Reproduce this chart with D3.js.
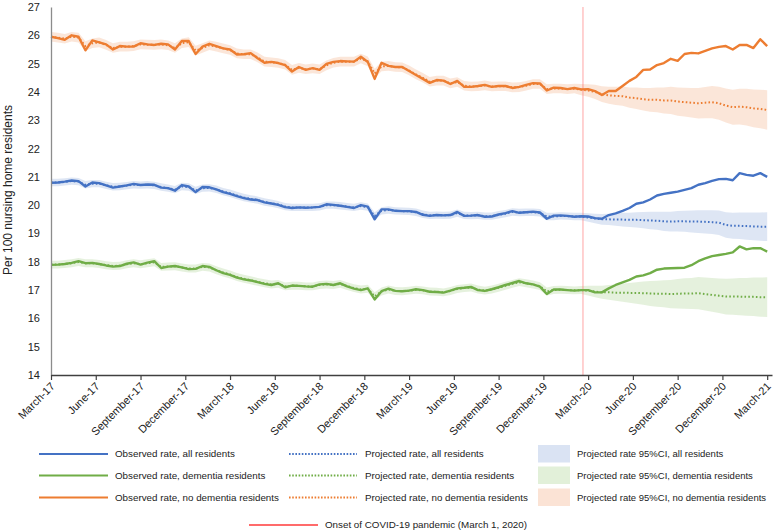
<!DOCTYPE html>
<html><head><meta charset="utf-8">
<script src="https://cdn.jsdelivr.net/npm/d3@7/dist/d3.min.js"></script>
<style>
html,body{margin:0;padding:0;background:#fff;}
svg{display:block;font-family:"Liberation Sans",Arial,sans-serif;}
</style></head>
<body>
<svg id="chart" width="777" height="532"></svg>
<script>
// ---- DATA (biweekly points, week index from March 2017) ----
const tickLabels = ["March-17","June-17","September-17","December-17","March-18","June-18","September-18","December-18","March-19","June-19","September-19","December-19","March-20","June-20","September-20","December-20","March-21"];
const yTicks = [14,15,16,17,18,19,20,21,22,23,24,25,26,27];
const covidWeek = 154.5;

const obsAll = [
20.79,20.80,20.83,20.87,20.85,20.66,20.80,20.78,20.70,20.62,
20.66,20.70,20.75,20.71,20.73,20.72,20.62,20.60,20.51,20.71,
20.66,20.46,20.64,20.63,20.56,20.46,20.40,20.32,20.25,20.20,
20.18,20.10,20.06,20.01,19.93,19.90,19.92,19.91,19.92,19.94,
20.03,20.01,19.98,19.94,19.90,20.00,19.95,19.50,19.85,19.85,
19.80,19.79,19.79,19.76,19.66,19.62,19.65,19.64,19.65,19.76,
19.62,19.63,19.65,19.59,19.60,19.67,19.72,19.79,19.73,19.75,
19.77,19.74,19.52,19.63,19.64,19.62,19.59,19.61,19.60,19.54,
19.52,19.65,19.71,19.80,19.90,20.05,20.10,20.20,20.34,20.40,
20.44,20.48,20.54,20.60,20.72,20.78,20.86,20.92,20.93,20.88,
21.13,21.07,21.04,21.13,21.00];
const projAll = [
20.80,20.80,20.82,20.85,20.83,20.72,20.76,20.76,20.70,20.65,
20.66,20.69,20.72,20.71,20.72,20.70,20.64,20.60,20.55,20.66,
20.64,20.52,20.60,20.61,20.56,20.48,20.42,20.34,20.27,20.22,
20.18,20.11,20.07,20.02,19.95,19.92,19.92,19.92,19.92,19.94,
20.00,20.00,19.98,19.95,19.92,19.97,19.93,19.62,19.80,19.83,
19.80,19.79,19.78,19.75,19.68,19.64,19.65,19.64,19.65,19.72,
19.64,19.63,19.64,19.61,19.61,19.66,19.70,19.76,19.74,19.75,
19.75,19.73,19.60,19.60,19.62,19.61,19.60,19.60,19.56,19.53,
19.50,19.50,19.49,19.49,19.48,19.48,19.47,19.46,19.45,19.43,
19.42,19.43,19.43,19.42,19.42,19.41,19.40,19.38,19.30,19.27,
19.27,19.26,19.25,19.24,19.24];
const ciAll = [
0.13,0.13,0.13,0.13,0.13,0.13,0.13,0.13,0.13,0.13,
0.13,0.13,0.13,0.13,0.13,0.13,0.13,0.13,0.13,0.13,
0.13,0.13,0.13,0.13,0.13,0.13,0.13,0.13,0.13,0.13,
0.13,0.13,0.13,0.13,0.13,0.13,0.13,0.13,0.13,0.13,
0.13,0.13,0.13,0.13,0.13,0.13,0.13,0.13,0.13,0.13,
0.13,0.13,0.13,0.13,0.13,0.13,0.13,0.13,0.13,0.13,
0.13,0.13,0.13,0.13,0.13,0.13,0.13,0.13,0.13,0.13,
0.13,0.13,0.13,0.13,0.13,0.13,0.13,0.13,0.15,0.17,
0.19,0.20,0.22,0.24,0.25,0.27,0.29,0.31,0.32,0.34,
0.35,0.36,0.37,0.39,0.40,0.41,0.42,0.43,0.45,0.46,
0.47,0.48,0.49,0.50,0.51];

const obsDem = [
17.89,17.90,17.92,17.96,18.02,17.95,17.96,17.92,17.87,17.83,
17.85,17.93,17.98,17.90,17.97,18.02,17.78,17.83,17.85,17.80,
17.74,17.75,17.85,17.82,17.70,17.60,17.54,17.44,17.38,17.34,
17.28,17.22,17.18,17.24,17.10,17.16,17.15,17.13,17.12,17.20,
17.22,17.18,17.24,17.13,17.05,17.00,17.06,16.67,16.96,17.05,
16.97,16.96,16.98,17.03,17.00,16.94,16.93,16.91,16.98,17.06,
17.08,17.11,17.00,16.97,17.03,17.10,17.18,17.25,17.32,17.24,
17.20,17.12,16.86,17.02,17.02,17.00,16.98,17.00,17.00,16.92,
16.92,17.06,17.18,17.27,17.36,17.48,17.52,17.60,17.72,17.76,
17.77,17.78,17.79,17.88,18.02,18.12,18.20,18.24,18.28,18.33,
18.54,18.44,18.48,18.48,18.36];
const projDem = [
17.90,17.90,17.92,17.95,17.99,17.95,17.95,17.92,17.88,17.85,
17.86,17.91,17.95,17.91,17.95,17.98,17.82,17.83,17.84,17.80,
17.76,17.76,17.82,17.80,17.70,17.62,17.55,17.46,17.40,17.35,
17.29,17.24,17.20,17.22,17.13,17.15,17.15,17.13,17.13,17.18,
17.20,17.18,17.22,17.14,17.07,17.02,17.05,16.78,16.95,17.02,
16.97,16.96,16.98,17.01,16.99,16.95,16.94,16.92,16.97,17.04,
17.07,17.09,17.02,16.98,17.02,17.08,17.15,17.22,17.28,17.24,
17.20,17.14,16.95,17.00,17.01,17.00,16.99,17.00,16.98,16.95,
16.92,16.92,16.91,16.91,16.90,16.90,16.89,16.88,16.87,16.87,
16.86,16.87,16.88,16.88,16.89,16.86,16.83,16.80,16.77,16.77,
16.77,16.76,16.76,16.75,16.75];
const ciDem = [
0.14,0.14,0.14,0.14,0.14,0.14,0.14,0.14,0.14,0.14,
0.14,0.14,0.14,0.14,0.14,0.14,0.14,0.14,0.14,0.14,
0.14,0.14,0.14,0.14,0.14,0.14,0.14,0.14,0.14,0.14,
0.14,0.14,0.14,0.14,0.14,0.14,0.14,0.14,0.14,0.14,
0.14,0.14,0.14,0.14,0.14,0.14,0.14,0.14,0.14,0.14,
0.14,0.14,0.14,0.14,0.14,0.14,0.14,0.14,0.14,0.14,
0.14,0.14,0.14,0.14,0.14,0.14,0.14,0.14,0.14,0.14,
0.14,0.14,0.14,0.14,0.14,0.14,0.14,0.14,0.17,0.20,
0.23,0.26,0.29,0.32,0.35,0.38,0.41,0.44,0.46,0.48,
0.50,0.52,0.54,0.55,0.57,0.58,0.60,0.61,0.63,0.64,
0.66,0.67,0.68,0.69,0.70];

const obsNoDem = [
25.95,25.90,25.84,26.00,25.95,25.47,25.82,25.75,25.68,25.50,
25.62,25.60,25.60,25.72,25.68,25.66,25.70,25.68,25.50,25.80,
25.80,25.34,25.60,25.70,25.62,25.54,25.50,25.32,25.33,25.37,
25.19,25.03,25.06,25.02,24.95,24.72,24.88,24.78,24.84,24.78,
24.99,25.06,25.09,25.08,25.07,25.24,25.06,24.46,25.03,24.92,
24.88,24.88,24.74,24.60,24.46,24.32,24.42,24.40,24.28,24.39,
24.18,24.18,24.21,24.25,24.18,24.21,24.21,24.14,24.18,24.25,
24.31,24.30,24.05,24.15,24.14,24.10,24.14,24.09,24.10,24.03,
23.89,24.03,24.03,24.21,24.39,24.53,24.78,24.79,24.95,25.02,
25.17,25.10,25.34,25.38,25.36,25.45,25.54,25.59,25.62,25.50,
25.66,25.66,25.55,25.86,25.62];
const projNoDem = [
25.95,25.92,25.88,25.95,25.92,25.62,25.72,25.75,25.66,25.55,
25.60,25.60,25.62,25.68,25.67,25.66,25.68,25.65,25.55,25.72,
25.76,25.46,25.55,25.65,25.60,25.54,25.48,25.36,25.33,25.33,
25.22,25.07,25.05,25.02,24.96,24.78,24.85,24.80,24.83,24.80,
24.94,25.03,25.07,25.07,25.07,25.18,25.08,24.65,24.90,24.92,
24.88,24.87,24.76,24.62,24.50,24.36,24.40,24.40,24.30,24.35,
24.22,24.19,24.20,24.23,24.19,24.20,24.20,24.16,24.17,24.22,
24.28,24.28,24.10,24.12,24.12,24.10,24.12,24.08,24.05,24.00,
23.92,23.88,23.86,23.85,23.80,23.78,23.74,23.72,23.72,23.70,
23.70,23.66,23.64,23.62,23.60,23.62,23.64,23.60,23.52,23.46,
23.48,23.46,23.42,23.40,23.36];
const ciNoDem = [
0.17,0.17,0.17,0.17,0.17,0.17,0.17,0.17,0.17,0.17,
0.17,0.17,0.17,0.17,0.17,0.17,0.17,0.17,0.17,0.17,
0.17,0.17,0.17,0.17,0.17,0.17,0.17,0.17,0.17,0.17,
0.17,0.17,0.17,0.17,0.17,0.17,0.17,0.17,0.17,0.17,
0.17,0.17,0.17,0.17,0.17,0.17,0.17,0.17,0.17,0.17,
0.17,0.17,0.17,0.17,0.17,0.17,0.17,0.17,0.17,0.17,
0.17,0.17,0.17,0.17,0.17,0.17,0.17,0.17,0.17,0.17,
0.17,0.17,0.17,0.17,0.17,0.17,0.17,0.20,0.22,0.25,
0.28,0.30,0.32,0.34,0.36,0.38,0.40,0.42,0.44,0.46,
0.48,0.50,0.51,0.52,0.54,0.55,0.57,0.58,0.60,0.62,
0.63,0.65,0.67,0.68,0.70];

const weeks = d3.range(obsAll.length).map(i => i * 2);
const tickWeeks = tickLabels.map((_, i) => i * 13);

// ---- STYLE ----
const colors = {all:"#4472C4", dem:"#70AD47", nodem:"#ED7D31"};
const ciColors = {all:"#DAE3F3", dem:"#E2F0D9", nodem:"#FBE3D5"};
const covidColor = "#FF6B6B";

const series = [
  {key:"all", obs:obsAll, proj:projAll, ci:ciAll},
  {key:"dem", obs:obsDem, proj:projDem, ci:ciDem},
  {key:"nodem", obs:obsNoDem, proj:projNoDem, ci:ciNoDem}
];

const svg = d3.select("#chart");
const x = d3.scaleLinear().domain([0, 209.4]).range([51, 772]);
const y = d3.scaleLinear().domain([14, 27]).range([375, 7]);

// CI bands
const area = d3.area().x(d => x(d.w)).y0(d => y(d.p - d.h)).y1(d => y(d.p + d.h));
series.forEach(s => {
  const pts = weeks.map((w, i) => ({w, p:s.proj[i], h:s.ci[i]}));
  svg.append("path").attr("d", area(pts)).attr("fill", ciColors[s.key]).attr("opacity", 0.9);
});

// covid line
svg.append("line").attr("x1", x(covidWeek)).attr("x2", x(covidWeek))
  .attr("y1", y(27)).attr("y2", y(14)).attr("stroke", covidColor).attr("stroke-width", 1).attr("opacity", 0.6);

// lines
const line = d3.line().x((d, i) => x(weeks[i])).y(d => y(d));
series.forEach(s => {
  svg.append("path").attr("d", line(s.proj)).attr("fill", "none")
    .attr("stroke", colors[s.key]).attr("stroke-width", 2).attr("stroke-dasharray", "1.6,2.2");
});
series.forEach(s => {
  svg.append("path").attr("d", line(s.obs)).attr("fill", "none")
    .attr("stroke", colors[s.key]).attr("stroke-width", 2.4).attr("stroke-linejoin", "round");
});

// y axis
const yAxis = svg.append("g").attr("transform", "translate(51,0)")
  .call(d3.axisLeft(y).tickValues(yTicks).tickSize(0).tickPadding(11).tickFormat(d3.format("d")));
yAxis.select(".domain").attr("stroke", "#8c8c8c").attr("stroke-width", 1.3);
yAxis.selectAll("text").attr("font-size", 11).attr("fill", "#222").attr("font-family", "Liberation Sans, Arial, sans-serif");

// x axis
const xAxis = svg.append("g").attr("transform", "translate(0,375)")
  .call(d3.axisBottom(x).tickValues(tickWeeks).tickSize(5).tickSizeOuter(0).tickFormat((d, i) => tickLabels[i]));
xAxis.select(".domain").attr("stroke", "#404040").attr("stroke-width", 1.3);
xAxis.selectAll(".tick line").attr("stroke", "#404040").attr("stroke-width", 1.2);
xAxis.selectAll("text").attr("font-size", 11).attr("fill", "#222")
  .attr("font-family", "Liberation Sans, Arial, sans-serif")
  .attr("text-anchor", "end").attr("dy", "0").attr("y", 0)
  .attr("transform", "translate(4,12) rotate(-45)");

// y title
svg.append("text").attr("transform", "translate(12,190) rotate(-90)")
  .attr("text-anchor", "middle").attr("font-size", 12).attr("fill", "#222")
  .text("Per 100 nursing home residents");

// legend
const lg = svg.append("g").attr("font-size", 9.8).attr("fill", "#222");
const rowsY = [454, 475.5, 497.5];
const names = {all:"all residents", dem:"dementia residents", nodem:"no dementia residents"};
series.forEach((s, r) => {
  const yy = rowsY[r];
  lg.append("line").attr("x1", 39).attr("x2", 108).attr("y1", yy).attr("y2", yy)
    .attr("stroke", colors[s.key]).attr("stroke-width", 2);
  lg.append("text").attr("x", 115).attr("y", yy).attr("dy", "0.35em").text("Observed rate, " + names[s.key]);
  lg.append("line").attr("x1", 289).attr("x2", 357).attr("y1", yy).attr("y2", yy)
    .attr("stroke", colors[s.key]).attr("stroke-width", 2).attr("stroke-dasharray", "1.6,1.6");
  lg.append("text").attr("x", 365).attr("y", yy).attr("dy", "0.35em").text("Projected rate, " + names[s.key]);
  lg.append("rect").attr("x", 538).attr("y", yy - 9).attr("width", 32).attr("height", 17.5)
    .attr("fill", ciColors[s.key]);
  lg.append("text").attr("x", 577).attr("y", yy).attr("dy", "0.35em").attr("font-size", 9.5)
    .text("Projected rate 95%CI, " + names[s.key]);
});
lg.append("line").attr("x1", 249).attr("x2", 318).attr("y1", 525).attr("y2", 525)
  .attr("stroke", covidColor).attr("stroke-width", 2);
lg.append("text").attr("x", 325).attr("y", 525).attr("dy", "0.35em").text("Onset of COVID-19 pandemic (March 1, 2020)");
</script>
</body></html>
